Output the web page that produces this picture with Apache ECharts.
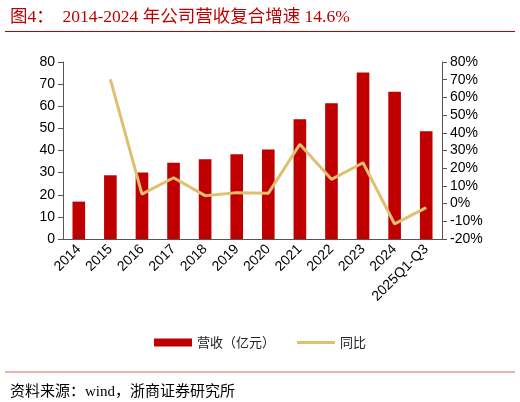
<!DOCTYPE html>
<html>
<head>
<meta charset="utf-8">
<script src="https://cdn.jsdelivr.net/npm/echarts@6/dist/echarts.min.js"></script>
<style>
  html, body { margin: 0; padding: 0; background: #fff; }
  #main { width: 520px; height: 402px; }
</style>
</head>
<body>
<div id="main"></div>
<script>
// 数据
var years = ['2014', '2015', '2016', '2017', '2018', '2019', '2020', '2021', '2022', '2023', '2024', '2025Q1-Q3'];
var revenue = [16.9, 28.8, 30.1, 34.5, 36.0, 38.3, 40.5, 54.1, 61.3, 75.3, 66.6, 48.7];
var yoy = [null, 70.2, 5.4, 14.6, 4.5, 6.2, 5.8, 33.5, 13.7, 23.1, -11.5, -2.3];

var titleText = '图4：  2014-2024 年公司营收复合增速 14.6%';
var sourceText = '资料来源：wind，浙商证券研究所';

var axisColor = '#555';
var labelFont = { color: '#000', fontSize: 14, fontFamily: 'Liberation Sans, Arial' };

var option = {
  animation: false,
  title: [{
    text: titleText,
    left: 5,
    top: 4,
    textStyle: { color: '#C00000', fontSize: 17.5, fontWeight: 'normal', fontFamily: 'Liberation Serif, Noto Sans CJK SC' }
  }, {
    text: sourceText,
    left: 5,
    top: 380,
    textStyle: { color: '#000', fontSize: 15, fontWeight: 'normal', fontFamily: 'Liberation Serif, Noto Sans CJK SC' }
  }],
  graphic: [
    { type: 'line', shape: { x1: 5, y1: 31.5, x2: 515, y2: 31.5 }, style: { stroke: '#C00000', lineWidth: 1 } },
    { type: 'line', shape: { x1: 5, y1: 372, x2: 515, y2: 372 }, style: { stroke: '#E06060', lineWidth: 1 } }
  ],
  legend: {
    top: 331,
    left: 'center',
    itemWidth: 38,
    itemHeight: 8,
    itemGap: 22,
    textStyle: { color: '#222', fontSize: 13, fontFamily: 'Noto Sans CJK SC' },
    data: [
      { name: '营收（亿元）', icon: 'rect' },
      { name: '同比', icon: 'path://M0 0H38V3H0Z' }
    ]
  },
  grid: { left: 63, right: 78, top: 62, bottom: 163 },
  xAxis: {
    type: 'category',
    data: years,
    axisLine: { lineStyle: { color: axisColor } },
    axisTick: { lineStyle: { color: axisColor }, length: 5 },
    axisLabel: Object.assign({ rotate: 45, interval: 0, margin: 8 }, labelFont)
  },
  yAxis: [{
    type: 'value',
    min: 0, max: 80, interval: 10,
    splitLine: { show: false },
    axisLine: { show: true, lineStyle: { color: axisColor } },
    axisTick: { show: true, lineStyle: { color: axisColor }, length: 5 },
    axisLabel: labelFont
  }, {
    type: 'value',
    min: -20, max: 80, interval: 10,
    splitLine: { show: false },
    axisLine: { show: true, lineStyle: { color: axisColor } },
    axisTick: { show: true, lineStyle: { color: axisColor }, length: 5 },
    axisLabel: Object.assign({ formatter: '{value}%' }, labelFont)
  }],
  series: [{
    name: '营收（亿元）',
    type: 'bar',
    data: revenue,
    barWidth: '40%',
    itemStyle: { color: '#C00000' }
  }, {
    name: '同比',
    type: 'line',
    yAxisIndex: 1,
    data: yoy,
    showSymbol: false,
    symbol: 'none',
    lineStyle: { color: '#DFC070', width: 3 },
    itemStyle: { color: '#DFC070' }
  }]
};

var myChart = echarts.init(document.getElementById('main'));
myChart.setOption(option);
</script>
</body>
</html>
